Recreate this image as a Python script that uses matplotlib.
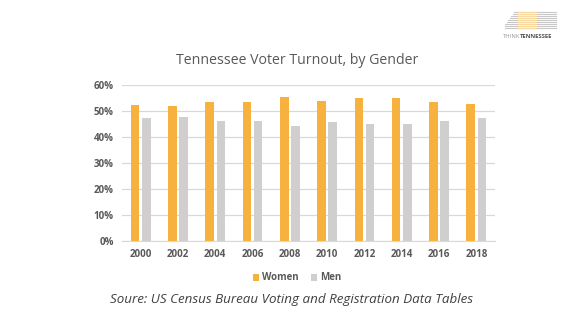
import numpy as np
import matplotlib
matplotlib.use('Agg')
import matplotlib.pyplot as plt
from matplotlib.lines import Line2D
from matplotlib.ticker import PercentFormatter

years = ['2000', '2002', '2004', '2006', '2008', '2010', '2012', '2014', '2016', '2018']
women = [52.3, 51.9, 53.6, 53.6, 55.4, 53.8, 55.0, 55.0, 53.6, 52.7]
men = [47.4, 47.8, 46.1, 46.1, 44.3, 45.7, 44.9, 44.9, 46.1, 47.2]

orange = '#F6B13F'
grey = '#D0CECE'
txt = '#595959'

fig = plt.figure(figsize=(5.7, 3.21), dpi=100)
ax = fig.add_axes([122/570, 1 - 240.7/321, (495-122)/570, (240.7-85)/321])

x = np.arange(len(years))
w = 0.23
ax.bar(x - 0.15, women, w, color=orange, label='Women', zorder=3)
ax.bar(x + 0.15, men, w, color=grey, label='Men', zorder=3)

ax.set_xlim(-0.5, len(years) - 0.5)
ax.set_ylim(0, 60)
ax.set_yticks(range(0, 61, 10))
ax.yaxis.set_major_formatter(PercentFormatter(decimals=0))
ax.set_xticks(x)
ax.set_xticklabels(years)
ax.grid(axis='y', color='#D9D9D9', linewidth=0.9, zorder=0)
for s in ['top', 'right', 'left']:
    ax.spines[s].set_visible(False)
ax.spines['bottom'].set_color('#D9D9D9')
ax.tick_params(length=0, labelsize=7, labelcolor=txt, pad=6)
for lab in ax.get_xticklabels() + ax.get_yticklabels():
    lab.set_fontweight('bold')
    lab.set_family('Open Sans')

fig.text(297/570, 1 - 61/321, 'Tennessee Voter Turnout, by Gender', ha='center', va='center',
         fontsize=10.2, color=txt, family='Open Sans')

leg = fig.legend(loc='center', bbox_to_anchor=(297/570, 1 - 278/321), ncol=2, frameon=False,
                 handlelength=0.7, handleheight=0.7, handletextpad=0.3,
                 columnspacing=1.2, prop={'family': 'Open Sans', 'weight': 'bold', 'size': 7})
for t in leg.get_texts():
    t.set_color(txt)

fig.text(291/570, 1 - 299/321, 'Soure: US Census Bureau Voting and Registration Data Tables',
         ha='center', va='center', fontsize=9.6, style='italic', color='#404040', family='Open Sans')

# logo in the top right corner: striped state outline and wordmark
for i, yy in enumerate(range(12, 30, 2)):
    x0 = 505 + max(0, 6 - i) * 1.5
    fig.add_artist(Line2D([x0/570, 556/570], [1 - yy/321] * 2, color='#c8c8c8', lw=0.8))
    fig.add_artist(Line2D([518/570, 536/570], [1 - yy/321] * 2, color='#f8d9a0', lw=0.8))
fig.text(520/570, 1 - 37/321, 'THINK', ha='right', va='center', fontsize=4.2, color='#9a9a9a',
         family='Open Sans')
fig.text(520/570, 1 - 37/321, 'TENNESSEE', ha='left', va='center', fontsize=4.2, color='#505050',
         family='Open Sans', fontweight='bold')

fig.savefig('out.png', dpi=100)
